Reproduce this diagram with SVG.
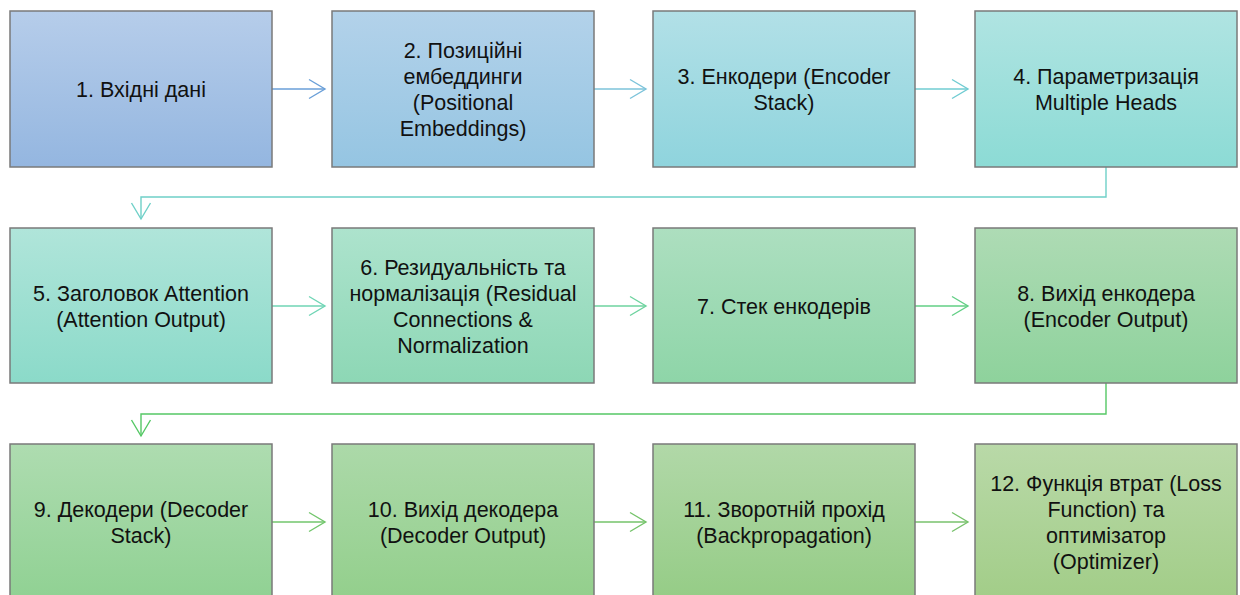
<svg xmlns="http://www.w3.org/2000/svg" xmlns:xlink="http://www.w3.org/1999/xlink" width="1240" height="595" viewBox="0 0 1240 595">
  <style>
    .box { stroke: #7a7a7a; stroke-width: 1.5; }
    .lbl { font-family: "Liberation Sans", Arial, sans-serif; font-size: 21.5px; fill: #111; text-anchor: middle; }
    .con { fill: none; stroke-width: 1.4; }
  </style>
  <defs>
    <!-- open chevron head, tip at origin, pointing along +x -->
    <path id="chev" d="M-16,-9.5 L0,0 L-16,9.5" fill="none" stroke-width="1.4"/>
    <linearGradient id="g1" x1="0" y1="0" x2="0" y2="1"><stop offset="0" stop-color="#b6cdea"/><stop offset="1" stop-color="#94b6e0"/></linearGradient>
    <linearGradient id="g2" x1="0" y1="0" x2="0" y2="1"><stop offset="0" stop-color="#b3d2ea"/><stop offset="1" stop-color="#95c5e2"/></linearGradient>
    <linearGradient id="g3" x1="0" y1="0" x2="0" y2="1"><stop offset="0" stop-color="#b2e0e7"/><stop offset="1" stop-color="#8fd4dd"/></linearGradient>
    <linearGradient id="g4" x1="0" y1="0" x2="0" y2="1"><stop offset="0" stop-color="#b0e4e2"/><stop offset="1" stop-color="#8cdbd5"/></linearGradient>
    <linearGradient id="g5" x1="0" y1="0" x2="0" y2="1"><stop offset="0" stop-color="#b0e5da"/><stop offset="1" stop-color="#8bdac9"/></linearGradient>
    <linearGradient id="g6" x1="0" y1="0" x2="0" y2="1"><stop offset="0" stop-color="#ade3cd"/><stop offset="1" stop-color="#8dd7b5"/></linearGradient>
    <linearGradient id="g7" x1="0" y1="0" x2="0" y2="1"><stop offset="0" stop-color="#addfc0"/><stop offset="1" stop-color="#8ed5a8"/></linearGradient>
    <linearGradient id="g8" x1="0" y1="0" x2="0" y2="1"><stop offset="0" stop-color="#aedbb4"/><stop offset="1" stop-color="#8ed29c"/></linearGradient>
    <linearGradient id="g9" x1="0" y1="0" x2="0" y2="1"><stop offset="0" stop-color="#aedcb0"/><stop offset="1" stop-color="#90d193"/></linearGradient>
    <linearGradient id="g10" x1="0" y1="0" x2="0" y2="1"><stop offset="0" stop-color="#acd9a9"/><stop offset="1" stop-color="#93cf8c"/></linearGradient>
    <linearGradient id="g11" x1="0" y1="0" x2="0" y2="1"><stop offset="0" stop-color="#b1d8a8"/><stop offset="1" stop-color="#95cc86"/></linearGradient>
    <linearGradient id="g12" x1="0" y1="0" x2="0" y2="1"><stop offset="0" stop-color="#b9d9a8"/><stop offset="1" stop-color="#a2cd88"/></linearGradient>
  </defs>

  <rect width="1240" height="595" fill="#ffffff"/>

  <!-- connectors -->
  <g id="connectors">
    <g stroke="#6a9fd8"><path class="con" d="M272,89 H325"/><use xlink:href="#chev" transform="translate(325,89)"/></g>
    <g stroke="#7cc3da"><path class="con" d="M594,89 H646"/><use xlink:href="#chev" transform="translate(646,89)"/></g>
    <g stroke="#70ccd2"><path class="con" d="M915,89 H968"/><use xlink:href="#chev" transform="translate(968,89)"/></g>
    <g stroke="#6fd0c8"><path class="con" d="M1106,167 V197 H141 V219"/><use xlink:href="#chev" transform="translate(141,219) rotate(90)"/></g>
    <g stroke="#6fd5b5"><path class="con" d="M272,306 H325"/><use xlink:href="#chev" transform="translate(325,306)"/></g>
    <g stroke="#6ed39f"><path class="con" d="M594,306 H646"/><use xlink:href="#chev" transform="translate(646,306)"/></g>
    <g stroke="#62cf85"><path class="con" d="M915,306 H968"/><use xlink:href="#chev" transform="translate(968,306)"/></g>
    <g stroke="#55c865"><path class="con" d="M1106,383 V414 H141 V436"/><use xlink:href="#chev" transform="translate(141,436) rotate(90)"/></g>
    <g stroke="#72c66c"><path class="con" d="M272,522 H325"/><use xlink:href="#chev" transform="translate(325,522)"/></g>
    <g stroke="#74c36a"><path class="con" d="M594,522 H646"/><use xlink:href="#chev" transform="translate(646,522)"/></g>
    <g stroke="#78c26c"><path class="con" d="M915,522 H968"/><use xlink:href="#chev" transform="translate(968,522)"/></g>
  </g>

  <!-- row 1 -->
  <g id="n1">
    <rect class="box" x="10" y="11" width="262" height="156" fill="url(#g1)"/>
    <text class="lbl" x="141" y="96.7">1. Вхідні дані</text>
  </g>
  <g id="n2">
    <rect class="box" x="332" y="11" width="262" height="156" fill="url(#g2)"/>
    <text class="lbl" x="463"><tspan x="463" y="57.7">2. Позиційні</tspan><tspan x="463" y="83.7">ембеддинги</tspan><tspan x="463" y="109.7">(Positional</tspan><tspan x="463" y="135.7">Embeddings)</tspan></text>
  </g>
  <g id="n3">
    <rect class="box" x="653" y="11" width="262" height="156" fill="url(#g3)"/>
    <text class="lbl" x="784"><tspan x="784" y="83.7">3. Енкодери (Encoder</tspan><tspan x="784" y="109.7">Stack)</tspan></text>
  </g>
  <g id="n4">
    <rect class="box" x="975" y="11" width="262" height="156" fill="url(#g4)"/>
    <text class="lbl" x="1106"><tspan x="1106" y="83.7">4. Параметризація</tspan><tspan x="1106" y="109.7">Multiple Heads</tspan></text>
  </g>

  <!-- row 2 -->
  <g id="n5">
    <rect class="box" x="10" y="228" width="262" height="155" fill="url(#g5)"/>
    <text class="lbl" x="141"><tspan x="141" y="300.7">5. Заголовок Attention</tspan><tspan x="141" y="326.7">(Attention Output)</tspan></text>
  </g>
  <g id="n6">
    <rect class="box" x="332" y="228" width="262" height="155" fill="url(#g6)"/>
    <text class="lbl" x="463"><tspan x="463" y="274.7">6. Резидуальність та</tspan><tspan x="463" y="300.7">нормалізація (Residual</tspan><tspan x="463" y="326.7">Connections &amp;</tspan><tspan x="463" y="352.7">Normalization</tspan></text>
  </g>
  <g id="n7">
    <rect class="box" x="653" y="228" width="262" height="155" fill="url(#g7)"/>
    <text class="lbl" x="784" y="313.7">7. Стек енкодерів</text>
  </g>
  <g id="n8">
    <rect class="box" x="975" y="228" width="262" height="155" fill="url(#g8)"/>
    <text class="lbl" x="1106"><tspan x="1106" y="300.7">8. Вихід енкодера</tspan><tspan x="1106" y="326.7">(Encoder Output)</tspan></text>
  </g>

  <!-- row 3 -->
  <g id="n9">
    <rect class="box" x="10" y="444" width="262" height="156" fill="url(#g9)"/>
    <text class="lbl" x="141"><tspan x="141" y="517.2">9. Декодери (Decoder</tspan><tspan x="141" y="543.2">Stack)</tspan></text>
  </g>
  <g id="n10">
    <rect class="box" x="332" y="444" width="262" height="156" fill="url(#g10)"/>
    <text class="lbl" x="463"><tspan x="463" y="517.2">10. Вихід декодера</tspan><tspan x="463" y="543.2">(Decoder Output)</tspan></text>
  </g>
  <g id="n11">
    <rect class="box" x="653" y="444" width="262" height="156" fill="url(#g11)"/>
    <text class="lbl" x="784"><tspan x="784" y="517.2">11. Зворотній прохід</tspan><tspan x="784" y="543.2">(Backpropagation)</tspan></text>
  </g>
  <g id="n12">
    <rect class="box" x="975" y="444" width="262" height="156" fill="url(#g12)"/>
    <text class="lbl" x="1106"><tspan x="1106" y="491.2">12. Функція втрат (Loss</tspan><tspan x="1106" y="517.2">Function) та</tspan><tspan x="1106" y="543.2">оптимізатор</tspan><tspan x="1106" y="569.2">(Optimizer)</tspan></text>
  </g>
</svg>
